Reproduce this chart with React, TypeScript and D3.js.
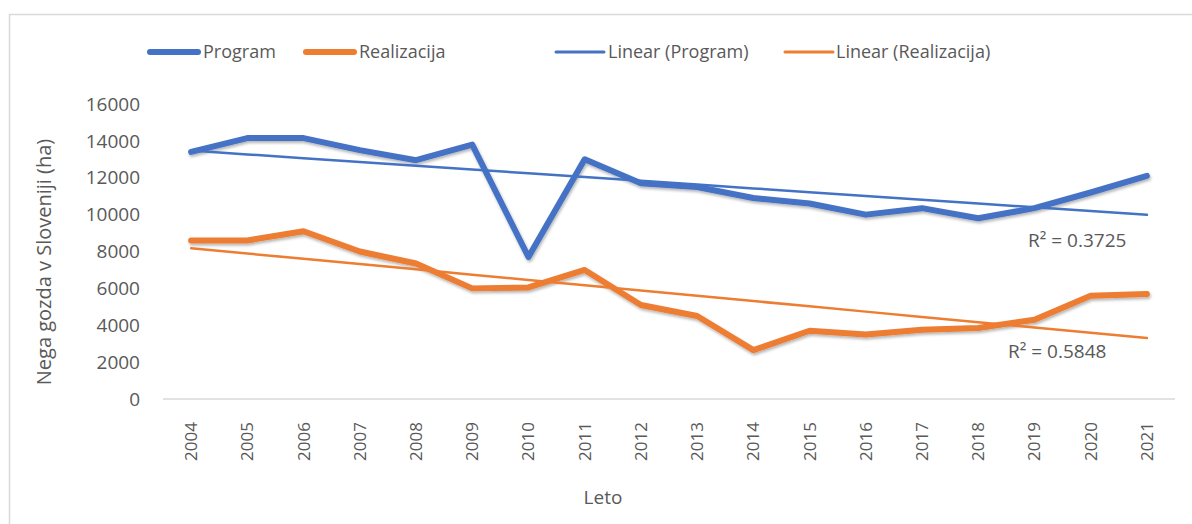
import React from "react";
import * as d3 from "d3";

const years = ["2004","2005","2006","2007","2008","2009","2010","2011","2012","2013","2014","2015","2016","2017","2018","2019","2020","2021"];
const program = [13400,14150,14150,13500,12950,13800,7700,13000,11700,11500,10900,10600,10000,10350,9800,10350,11200,12100];
const realizacija = [8600,8600,9100,8000,7350,6000,6050,7000,5100,4500,2650,3700,3500,3750,3850,4300,5600,5700];
const yTicks = [0,2000,4000,6000,8000,10000,12000,14000,16000];
const r2Labels = ["R² = 0.3725", "R² = 0.5848"];

const BLUE = "#4472C4";
const ORANGE = "#ED7D31";
const TXT = "#595959";
const FONT = "'Open Sans', sans-serif";

function regress(vals: number[]) {
  const n = vals.length;
  const xs = vals.map((_, i) => i + 1);
  const mx = d3.mean(xs)!;
  const my = d3.mean(vals)!;
  let num = 0, den = 0;
  xs.forEach((x, i) => { num += (x - mx) * (vals[i] - my); den += (x - mx) ** 2; });
  const b = num / den;
  const a = my - b * mx;
  return vals.map((_, i) => a + b * (i + 1));
}

export default function App() {
  const W = 1192, H = 524;
  const x = d3.scaleBand<string>().domain(years).range([163, 1175]).padding(0);
  const y = d3.scaleLinear().domain([0, 16000]).range([399, 104]);
  const cx = (yr: string) => x(yr)! + x.bandwidth() / 2;
  const line = d3.line<number>().x((_, i) => cx(years[i])).y(d => y(d));
  const tP = regress(program);
  const tR = regress(realizacija);

  const legend = [
    { label: "Program", color: BLUE, w: 6, sx: 150, tx: 203 },
    { label: "Realizacija", color: ORANGE, w: 6, sx: 306, tx: 359 },
    { label: "Linear (Program)", color: BLUE, w: 3, sx: 556, tx: 608 },
    { label: "Linear (Realizacija)", color: ORANGE, w: 3, sx: 785, tx: 836 },
  ];

  return (
    <svg width={W} height={H} style={{ position: "absolute", left: 0, top: 0, background: "#fff" }}>
      <defs>
        <filter id="sh" x="-5%" y="-20%" width="110%" height="140%">
          <feGaussianBlur in="SourceAlpha" stdDeviation="1.5" />
          <feOffset dx="1" dy="2" result="ob" />
          <feComponentTransfer><feFuncA type="linear" slope="0.3" /></feComponentTransfer>
          <feMerge><feMergeNode /><feMergeNode in="SourceGraphic" /></feMerge>
        </filter>
      </defs>
      <rect x={9.5} y={14.5} width={1190} height={540} fill="#fff" stroke="#d9d9d9" strokeWidth={1.5} />
      {/* legend */}
      {legend.map(l => (
        <g key={l.label}>
          <line x1={l.sx} x2={l.sx + 48} y1={52} y2={52} stroke={l.color} strokeWidth={l.w} strokeLinecap="round" />
          <text x={l.tx} y={52} dy="0.35em" fontFamily={FONT} fontSize={18} fill={TXT}>{l.label}</text>
        </g>
      ))}
      {/* y ticks */}
      {yTicks.map(t => (
        <text key={t} x={140} y={y(t)} dy="0.35em" textAnchor="end" fontFamily={FONT} fontSize={19} fill={TXT}>{t}</text>
      ))}
      {/* x axis */}
      <line x1={163} x2={1175} y1={y(0)} y2={y(0)} stroke="#d9d9d9" strokeWidth={1.5} />
      {years.map(yr => (
        <text key={yr} transform={`translate(${cx(yr)},${461}) rotate(-90)`} dy="0.35em" fontFamily={FONT} fontSize={17} fill={TXT}>{yr}</text>
      ))}
      <text x={603} y={497} dy="0.35em" textAnchor="middle" fontFamily={FONT} fontSize={19} fill={TXT}>Leto</text>
      <text transform={`translate(44,262) rotate(-90)`} dy="0.35em" textAnchor="middle" fontFamily={FONT} fontSize={20} fill={TXT}>Nega gozda v Sloveniji (ha)</text>
      {/* series */}
      <g filter="url(#sh)">
        <path d={line(program)!} fill="none" stroke={BLUE} strokeWidth={6} strokeLinecap="round" strokeLinejoin="round" />
        <path d={line(realizacija)!} fill="none" stroke={ORANGE} strokeWidth={6} strokeLinecap="round" strokeLinejoin="round" />
      </g>
      <path d={line(tP)!} fill="none" stroke={BLUE} strokeWidth={2.5} strokeLinecap="round" />
      <path d={line(tR)!} fill="none" stroke={ORANGE} strokeWidth={2.5} strokeLinecap="round" />
      <text x={1028} y={240} dy="0.35em" fontFamily={FONT} fontSize={19} fill={TXT}>{r2Labels[0]}</text>
      <text x={1008} y={351} dy="0.35em" fontFamily={FONT} fontSize={19} fill={TXT}>{r2Labels[1]}</text>
    </svg>
  );
}
